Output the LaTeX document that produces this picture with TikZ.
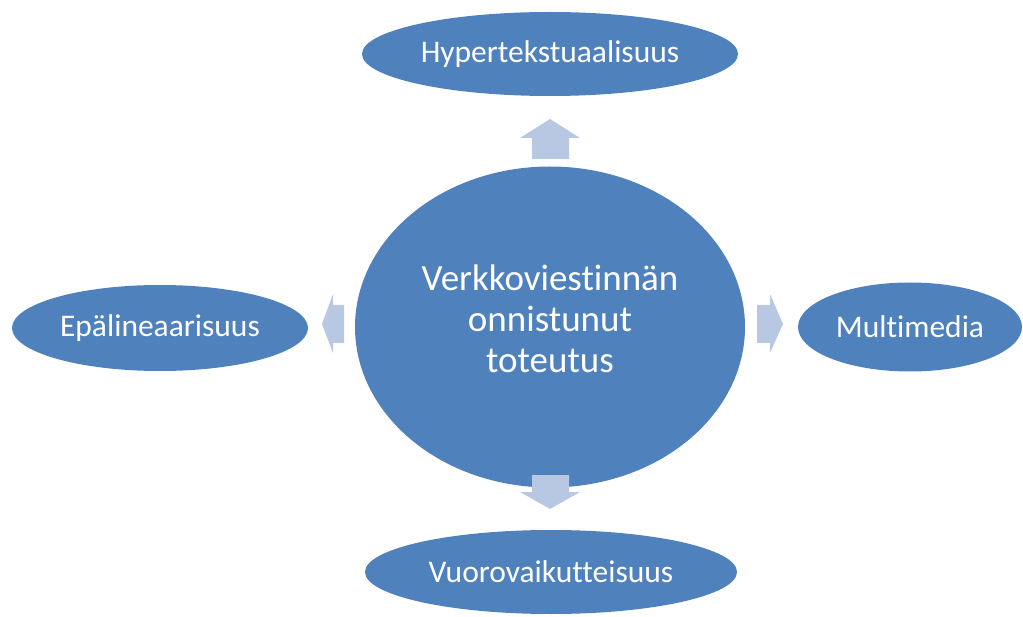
\documentclass[tikz,border=0pt]{standalone}
\usepackage{fontspec}
\setmainfont{Carlito}[RawFeature=-liga]
\usetikzlibrary{shapes.geometric}
\definecolor{blob}{RGB}{79,129,189}
\definecolor{pale}{RGB}{185,200,226}
\tikzset{blob/.style = {ellipse, fill = blob, text = white, inner sep = 0},
         lbl/.style = {blob, font = \fontsize{31.5}{36}\selectfont},
         bigarrow/.style = {fill = pale}}

\begin{document}
\begin{tikzpicture}[x = 1pt, y = -1pt]
    \useasboundingbox (0, 0) rectangle (1023, 617);
    \node [blob, minimum width = 390, minimum height = 321, align = center, text depth = 16pt,
      font = \fontsize{37}{41}\selectfont] (mid) at (550, 327)
      {Verkkoviestinnän\\onnistunut\\toteutus};
    \node [lbl, minimum width = 376, minimum height = 84] (top) at (550, 54) {Hypertekstuaalisuus};
    \node [lbl, minimum width = 372, minimum height = 84] (bot) at (551, 572) {Vuorovaikutteisuus};
    \node [lbl, minimum width = 296, minimum height = 86] (left) at (160, 328) {Epälineaarisuus};
    \node [lbl, minimum width = 224, minimum height = 89] (right) at (910, 327) {Multimedia};
    % block arrows
    \fill [bigarrow] (532, 159) -- (532, 138) -- (520, 138) -- (550, 119) -- (580, 138) -- (569, 138) -- (569, 159) -- cycle;
    \fill [bigarrow] (532, 475) -- (532, 492) -- (520, 492) -- (550, 509) -- (580, 492) -- (569, 492) -- (569, 475) -- cycle;
    \fill [bigarrow] (344, 305) -- (333, 305) -- (333, 294) -- (322, 324) -- (333, 353) -- (333, 343) -- (344, 343) -- cycle;
    \fill [bigarrow] (757, 305) -- (770, 305) -- (770, 294) -- (783, 324) -- (770, 353) -- (770, 343) -- (757, 343) -- cycle;
  \end{tikzpicture}
\end{document}
